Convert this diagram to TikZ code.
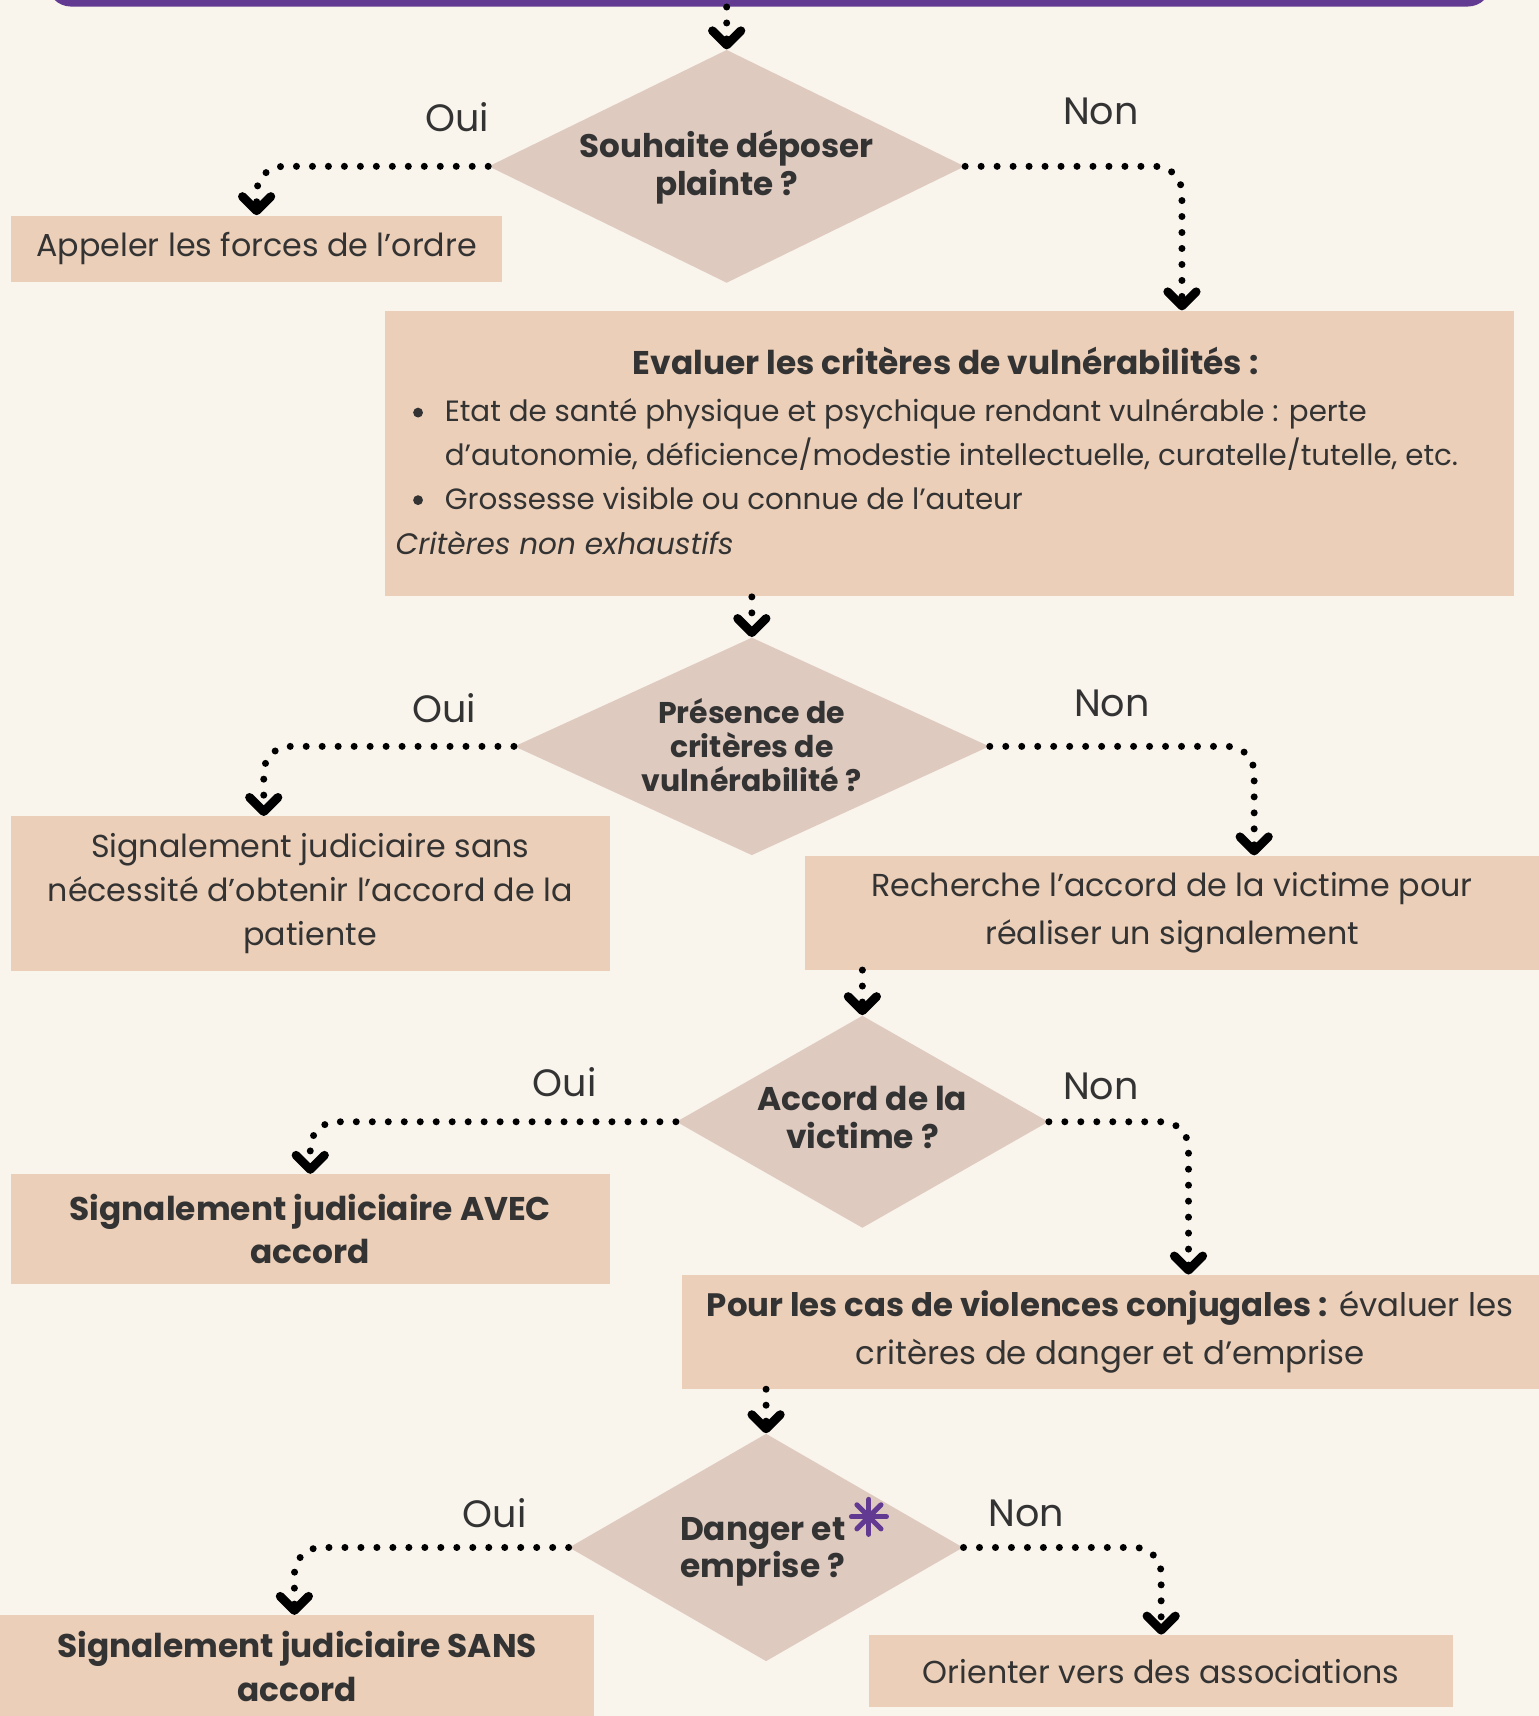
\documentclass[tikz,border=0pt]{standalone}
\usepackage{fontspec}
\setmainfont{Poppins}
\usetikzlibrary{shapes.geometric,arrows.meta,calc}
\definecolor{bgc}{HTML}{F9F4EC}
\definecolor{boxc}{HTML}{ECCFB8}
\definecolor{diac}{HTML}{DFCAC0}
\definecolor{txtc}{HTML}{333333}
\definecolor{purp}{HTML}{633A91}
\tikzset{
  boxst/.style={rectangle, fill=boxc, inner sep=0pt, text=txtc, align=center},
  diast/.style={diamond, fill=diac, inner sep=0pt},
  diatext/.style={text=txtc, align=center, inner sep=0pt, font=\bfseries\fontsize{14.9}{17.5}\selectfont},
  lbl/.style={text=txtc, inner sep=0pt, font=\fontsize{17.4}{20}\selectfont},
  body/.style={font=\fontsize{14.5}{20}\selectfont},
  inbig/.style={text=txtc, inner sep=0pt, anchor=mid west, font=\fontsize{13.4}{20}\selectfont},
  conn/.style={line width=3.2pt, dash pattern=on 0pt off 7.3pt, line cap=round, rounded corners=12pt,
    -{Straight Barb[length=6.5pt,width=13pt,line width=4pt,round]}},
}
\begin{document}
\begin{tikzpicture}[x=0.5pt,y=-0.5pt]
\fill[bgc] (0,0) rectangle (1406,1568);
\useasboundingbox (0,0) rectangle (1406,1568);
% top bar
\node[rectangle, fill=purp, rounded corners=11pt, minimum width=660pt, minimum height=23pt, inner sep=0pt] (bar) at (703,-17) {};
% diamonds
\node[diast, minimum width=217.5pt, minimum height=106.5pt] (d1) at (664,152) {};
\node[diatext] at (664,153) {Souhaite déposer\\plainte ?};
\node[diast, minimum width=217pt, minimum height=99.5pt] (d2) at (687,682) {};
\node[diatext, font=\bfseries\fontsize{13.7}{15.5}\selectfont] at (687,681) {Présence de\\critères de\\vulnérabilité ?};
\node[diast, minimum width=170pt, minimum height=97pt] (d3) at (788,1025) {};
\node[diatext, font=\bfseries\fontsize{15}{17}\selectfont] at (788,1021) {Accord de la\\victime ?};
\node[diast, minimum width=180pt, minimum height=104pt] (d4) at (700,1414) {};
\node[diatext, font=\bfseries\fontsize{15}{17}\selectfont] (d4t) at (697,1418) {Danger et\\emprise ?};
% boxes
\node[boxst, body, minimum width=224.5pt, minimum height=30.5pt] (b1) at (234.5,227.5) {Appeler les forces de l’ordre};
\node[boxst, minimum width=515.5pt, minimum height=130.5pt] (big) at (867.5,414.5) {};
\node[text=txtc, inner sep=0pt, anchor=mid, font=\bfseries\fontsize{15}{20}\selectfont] at (864,337) {Evaluer les critères de vulnérabilités :};
\fill[txtc] (382,377) circle (4.5);
\fill[txtc] (382,457) circle (4.5);
\node[inbig] at (406,380) {Etat de santé physique et psychique rendant vulnérable : perte};
\node[inbig] at (406,420) {d’autonomie, déficience/modestie intellectuelle, curatelle/tutelle, etc.};
\node[inbig] at (406,460) {Grossesse visible ou connue de l’auteur};
\node[inbig, font=\itshape\fontsize{13.5}{20}\selectfont] at (361,501) {Critères non exhaustifs};
\node[boxst, body, minimum width=273.5pt, minimum height=70.5pt] (b2) at (283.5,816.5) {Signalement judiciaire sans\\nécessité d’obtenir l’accord de la\\patiente};
\node[boxst, font=\fontsize{14.5}{21.5}\selectfont, minimum width=335pt, minimum height=52pt] (b3) at (1071,834) {Recherche l’accord de la victime pour\\réaliser un signalement};
\node[boxst, font=\bfseries\fontsize{15}{20}\selectfont, minimum width=273.5pt, minimum height=50pt] (b4) at (283.5,1123) {Signalement judiciaire AVEC\\accord};
\node[boxst, font=\fontsize{14.8}{22}\selectfont, minimum width=391.5pt, minimum height=52pt] (b5) at (1014.5,1217) {\textbf{Pour les cas de violences conjugales :} évaluer les\\critères de danger et d’emprise};
\node[boxst, font=\bfseries\fontsize{15}{20}\selectfont, minimum width=271.5pt, minimum height=47pt] (b6) at (271.5,1523) {Signalement judiciaire SANS\\accord};
\node[boxst, body, minimum width=267pt, minimum height=33pt] (b7) at (1061,1527) {Orienter vers des associations};
% labels
\node[lbl] (o1) at (418,107) {Oui};
\node[lbl] (n1) at (1006,102) {Non};
\node[lbl] (o2) at (406,647) {Oui};
\node[lbl] (n2) at (1016,643) {Non};
\node[lbl] (o3) at (516,989) {Oui};
\node[lbl] (n3) at (1006,993) {Non};
\node[lbl] (o4) at (452,1383) {Oui};
\node[lbl] (n4) at (938,1383) {Non};
% asterisk
\begin{scope}[shift={(794,1386)}, purp, line width=2.3pt, line cap=round]
\draw (-16,0) -- (16,0);
\draw (0,-16) -- (0,16);
\draw (-11,-11) -- (11,11);
\draw (-11,11) -- (11,-11);
\end{scope}
% connectors
\draw[conn] (d1.north |- bar.south) -- (d1.north);
\draw[conn] (d1.west) -| (b1.north);
\draw[conn] (d1.east) -| ([xshift=106.25pt]big.north);
\draw[conn] (big.south -| d2.north) -- (d2.north);
\draw[conn] (d2.west) -| ([xshift=-21.25pt]b2.north);
\draw[conn] (d2.east) -| ([xshift=37.5pt]b3.north);
\draw[conn] (b3.south -| d3.north) -- (d3.north);
\draw[conn] (d3.west) -| (b4.north);
\draw[conn] (d3.east) -| ([xshift=35.75pt]b5.north);
\draw[conn] (b5.south -| d4.north) -- (d4.north);
\draw[conn] (d4.west) -| ([xshift=-1.25pt]b6.north);
\draw[conn] (d4.east) -| (b7.north);
\end{tikzpicture}
\end{document}
